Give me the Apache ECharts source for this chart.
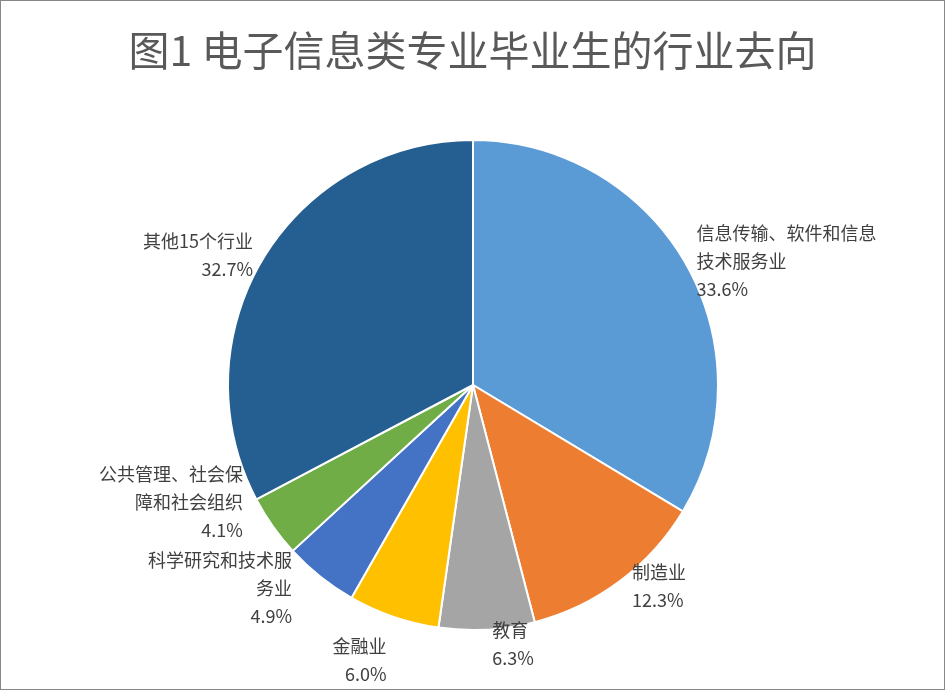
<!DOCTYPE html>
<html>
<head>
<meta charset="utf-8">
<script src="https://cdn.jsdelivr.net/npm/echarts@6/dist/echarts.min.js"></script>
<style>
html, body { margin: 0; padding: 0; background: #fff; }
#chart { width: 943px; height: 688px; border: 1px solid #878787; }
</style>
</head>
<body>
<div id="chart"></div>
<script>
const categories = [
    "信息传输、软件和信息\n技术服务业",
    "制造业",
    "教育",
    "金融业",
    "科学研究和技术服\n务业",
    "公共管理、社会保\n障和社会组织",
    "其他15个行业"
];
const shares = [33.6, 12.3, 6.3, 6.0, 4.9, 4.1, 32.7];
const colors = ["#5B9BD5", "#ED7D31", "#A5A5A5", "#FFC000", "#4472C4", "#70AD47", "#255E91"];

const chart = echarts.init(document.getElementById("chart"));
chart.setOption({
    animation: false,
    title: {
        text: "图1 电子信息类专业毕业生的行业去向",
        left: "center",
        top: 24,
        textStyle: { fontSize: 41, fontWeight: "normal", color: "#595959", fontFamily: "Noto Sans CJK SC" }
    },
    series: [{
        type: "pie",
        center: [472, 384],
        radius: 245,
        startAngle: 90,
        clockwise: true,
        itemStyle: { borderColor: "#fff", borderWidth: 2 },
        label: {
            show: true,
            position: "outside",
            formatter: p => p.name + "\n" + p.value.toFixed(1) + "%",
            fontSize: 18,
            lineHeight: 28,
            color: "#404040",
            textAlign: "center",
            align: "center",
            fontFamily: "Noto Sans CJK SC"
        },
        labelLine: { show: false, length: 6, length2: 0 },
        data: categories.map((c, i) => ({ name: c, value: shares[i], itemStyle: { color: colors[i] } }))
    }]
});
</script>
</body>
</html>
